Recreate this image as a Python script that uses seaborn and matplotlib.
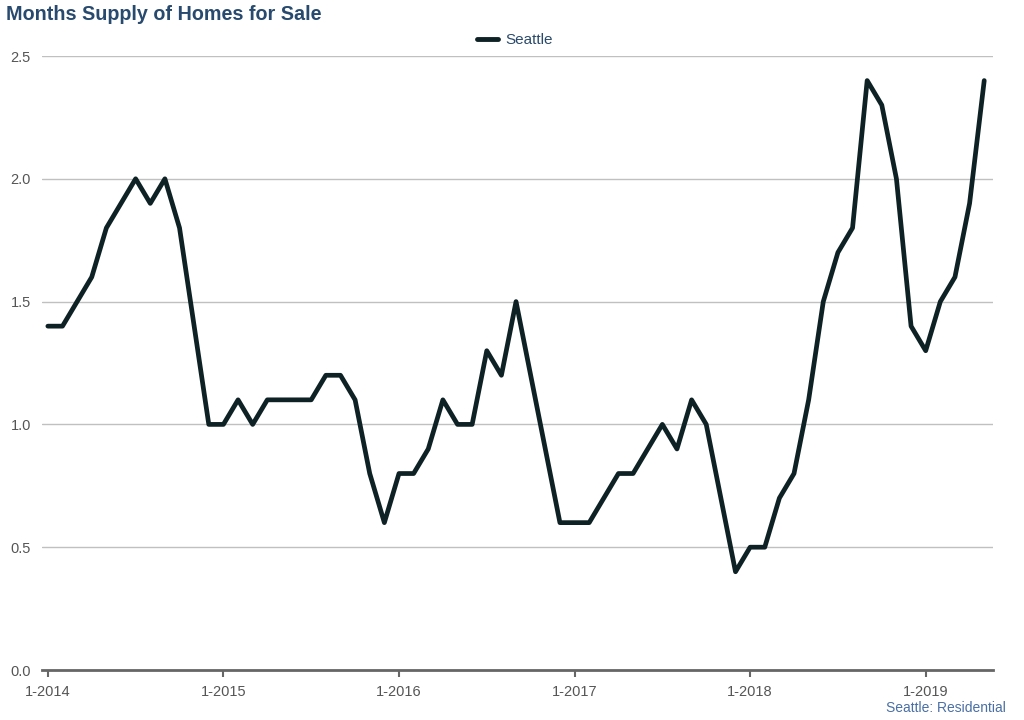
import matplotlib
matplotlib.use("Agg")
import matplotlib.pyplot as plt
import seaborn as sns
import pandas as pd
from matplotlib.lines import Line2D

months = [f"{m}-{y}" for y in range(2014, 2020) for m in range(1, 13)][:65]
supply = [1.4, 1.4, 1.5, 1.6, 1.8, 1.9, 2.0, 1.9, 2.0, 1.8, 1.4, 1.0,
          1.0, 1.1, 1.0, 1.1, 1.1, 1.1, 1.1, 1.2, 1.2, 1.1, 0.8, 0.6,
          0.8, 0.8, 0.9, 1.1, 1.0, 1.0, 1.3, 1.2, 1.5, 1.2, 0.9, 0.6,
          0.6, 0.6, 0.7, 0.8, 0.8, 0.9, 1.0, 0.9, 1.1, 1.0, 0.7, 0.4,
          0.5, 0.5, 0.7, 0.8, 1.1, 1.5, 1.7, 1.8, 2.4, 2.3, 2.0, 1.4,
          1.3, 1.5, 1.6, 1.9, 2.4]
tick_labels = ["1-2014", "1-2015", "1-2016", "1-2017", "1-2018", "1-2019"]
y_ticks = [0.0, 0.5, 1.0, 1.5, 2.0, 2.5]

df = pd.DataFrame({"idx": range(len(supply)), "value": supply, "series": "Seattle"})

sns.set_theme(style="white")
plt.rcParams["font.family"] = ["Liberation Sans", "DejaVu Sans"]

fig = plt.figure(figsize=(10.24, 7.2), dpi=100)
ax = fig.add_axes([42 / 1024, 50 / 720, (993 - 42) / 1024, (670 - 56) / 720])

sns.lineplot(data=df, x="idx", y="value", hue="series", palette=["#0e2124"],
             linewidth=3.4, ax=ax, legend=False, solid_joinstyle="round",
             solid_capstyle="round")

ax.set_xlim(-0.4, 64.6)
ax.set_ylim(0, 2.5)
ax.set_yticks(y_ticks)
ax.set_yticklabels([f"{v:.1f}" for v in y_ticks], color="#555555", fontsize=10.5)
ax.yaxis.grid(True, color="#c0c0c0", linewidth=1)
ax.set_axisbelow(True)
ax.tick_params(axis="y", length=0, pad=8)

ax.set_xticks([months.index(t) for t in tick_labels])
ax.set_xticklabels(tick_labels, color="#555555", fontsize=10.5)
ax.tick_params(axis="x", length=5, width=1.5, color="#666666", pad=6, direction="out")
ax.xaxis.set_ticks_position("bottom")

for s in ["top", "right", "left"]:
    ax.spines[s].set_visible(False)
ax.spines["bottom"].set_color("#666666")
ax.spines["bottom"].set_linewidth(2)
ax.set_xlabel("")
ax.set_ylabel("")

handle = Line2D([], [], color="#0e2124", linewidth=3.5)
leg = fig.legend([handle], ["Seattle"], loc="center", bbox_to_anchor=(515 / 1024, 1 - 40 / 720),
                 frameon=False, fontsize=11, handlelength=1.4, handletextpad=0.5)
for t in leg.get_texts():
    t.set_color("#2b4a6b")

fig.text(6 / 1024, 1 - 15 / 720, "Months Supply of Homes for Sale", fontsize=14.2,
         fontweight="bold", color="#284a6e", ha="left", va="center")
fig.text(1006 / 1024, 1 - 708 / 720, "Seattle: Residential", fontsize=10,
         color="#4a6fa5", ha="right", va="center")

fig.savefig("out.png", dpi=100)
